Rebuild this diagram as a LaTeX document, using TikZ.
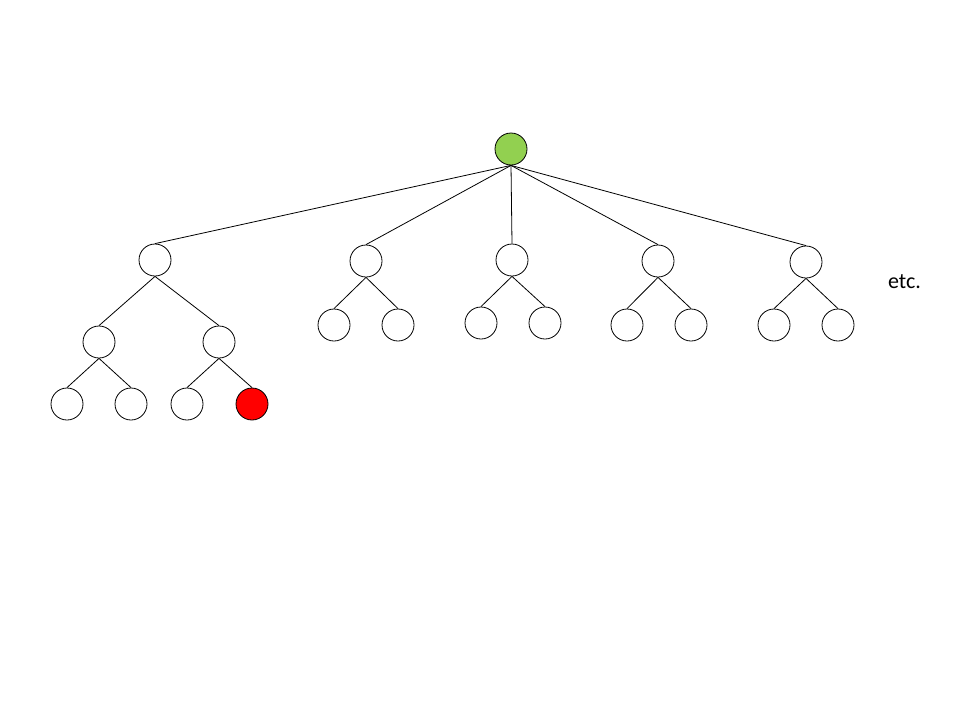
\documentclass[tikz,border=0pt]{standalone}
\usepackage{fontspec}
\setmainfont{Carlito}
\definecolor{leafgreen}{HTML}{92D050}
\definecolor{goalred}{HTML}{FF0000}
\begin{document}
\begin{tikzpicture}[x=1pt,y=-1pt,
  tn/.style={circle,draw=black,line width=0.8pt,fill=white,inner sep=0pt,minimum size=32pt},
  conn/.style={draw=black,line width=0.8pt}]
\useasboundingbox (0,0) rectangle (960,720);
\node[tn,fill=leafgreen] (r) at (511,149) {};
\node[tn] (a) at (155,260) {};
\node[tn] (b) at (366,261) {};
\node[tn] (c) at (512,260) {};
\node[tn] (d) at (658,261) {};
\node[tn] (e) at (806,262) {};
\node[tn] (a1) at (99,342) {};
\node[tn] (a2) at (219,342) {};
\node[tn] (a11) at (67,404) {};
\node[tn] (a12) at (131,404) {};
\node[tn] (a21) at (187,404) {};
\node[tn,fill=goalred] (a22) at (252,404) {};
\node[tn] (b1) at (334,325) {};
\node[tn] (b2) at (398,325) {};
\node[tn] (c1) at (481,323) {};
\node[tn] (c2) at (545,323) {};
\node[tn] (d1) at (627,325) {};
\node[tn] (d2) at (691,325) {};
\node[tn] (e1) at (774,325) {};
\node[tn] (e2) at (838,325) {};
\node[font=\fontsize{22}{26}\selectfont,inner sep=0pt,anchor=base] (etc) at (904.5,288) {etc.};
\foreach \p/\c in {r/a,r/b,r/c,r/d,r/e,a/a1,a/a2,a1/a11,a1/a12,a2/a21,a2/a22,b/b1,b/b2,c/c1,c/c2,d/d1,d/d2,e/e1,e/e2}
  \draw[conn] (\p.south) -- (\c.north);
\end{tikzpicture}
\end{document}
